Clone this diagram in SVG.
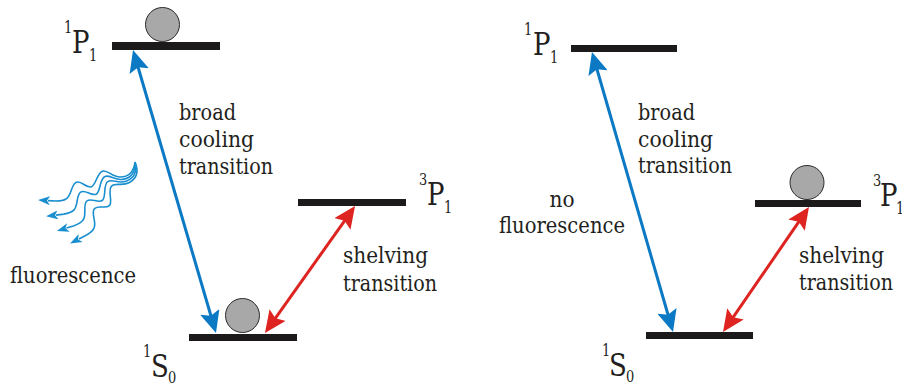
<svg xmlns="http://www.w3.org/2000/svg" xmlns:xlink="http://www.w3.org/1999/xlink" width="902" height="387" viewBox="0 0 902 387">
<style>
  .bar { fill: #1c1a1a; }
  .atom { fill: #a8a8a8; stroke: #2a2a2a; stroke-width: 1; }
  text { font-family: "DejaVu Serif", serif; fill: #231f20; }
  .t { font-size: 22px; }
  .lab { font-size: 26px; }
  .idx { font-size: 13px; }
  .blue { stroke: #0b79c4; stroke-width: 3; fill: none; }
  .red { stroke: #dd2420; stroke-width: 3; fill: none; }
  .wave { stroke: #1a8fd0; stroke-width: 1.6; fill: none; }
</style>
<defs>
  <marker id="hb" markerUnits="userSpaceOnUse" viewBox="0 0 22 20" markerWidth="22" markerHeight="20" refX="10" refY="10" orient="auto-start-reverse">
    <path d="M0,0 L22,10 L0,20 L4,10 Z" fill="#0b79c4"/>
  </marker>
  <marker id="hr" markerUnits="userSpaceOnUse" viewBox="0 0 22 20" markerWidth="22" markerHeight="20" refX="10" refY="10" orient="auto-start-reverse">
    <path d="M0,0 L22,10 L0,20 L4,10 Z" fill="#dd2420"/>
  </marker>
  <marker id="hw" markerUnits="userSpaceOnUse" viewBox="0 0 12 9" markerWidth="12" markerHeight="9" refX="2" refY="4.5" orient="auto">
    <path d="M0,0 L12,4.5 L0,9 L3,4.5 Z" fill="#1a8fd0"/>
  </marker>
  <path id="wave" class="wave" marker-end="url(#hw)" d="M135,162 C134,170 130,177 120,177 C112,177 108,170 103,171 C97,172 96,186 91,187 C86,188 82,181 77,182 C71,183 72,196 66,199 C63,201 60,201 56,201 L48,200.6"/>
</defs>

<!-- Left panel -->
<g id="L_1P1">
  <rect class="bar" x="112" y="42" width="108" height="8"/>
  <circle class="atom" cx="162.5" cy="24.5" r="17"/>
  <g transform="translate(72,53) scale(1,1.25)">
    <text class="idx" x="-8" y="-16">1</text>
    <text class="lab" x="0" y="0">P</text>
    <text class="idx" x="17" y="6">1</text>
  </g>
</g>
<g id="L_3P1">
  <rect class="bar" x="298" y="199" width="108" height="7"/>
  <g transform="translate(427,205) scale(1,1.25)">
    <text class="idx" x="-8" y="-16">3</text>
    <text class="lab" x="0" y="0">P</text>
    <text class="idx" x="17" y="6">1</text>
  </g>
</g>
<g id="L_1S0">
  <rect class="bar" x="189" y="334" width="108" height="7"/>
  <circle class="atom" cx="242.5" cy="315.5" r="17"/>
  <g transform="translate(151,377) scale(1,1.25)">
    <text class="idx" x="-8" y="-16">1</text>
    <text class="lab" x="0" y="0">S</text>
    <text class="idx" x="17" y="5">0</text>
  </g>
</g>
<g id="L_cool_label">
  <text class="t" x="179" y="120" textLength="57" lengthAdjust="spacingAndGlyphs">broad</text>
  <text class="t" x="179" y="147" textLength="75" lengthAdjust="spacingAndGlyphs">cooling</text>
  <text class="t" x="179" y="174" textLength="94" lengthAdjust="spacingAndGlyphs">transition</text>
</g>
<g id="L_shelv_label">
  <text class="t" x="343" y="263" textLength="85" lengthAdjust="spacingAndGlyphs">shelving</text>
  <text class="t" x="343" y="291" textLength="94" lengthAdjust="spacingAndGlyphs">transition</text>
</g>
<g id="L_fluor">
  <use xlink:href="#wave"/>
  <use xlink:href="#wave" transform="rotate(-10 135 162)"/>
  <use xlink:href="#wave" transform="rotate(-20 135 162)"/>
  <use xlink:href="#wave" transform="rotate(-30 135 162)"/>
  <text class="t" x="10" y="283" textLength="126" lengthAdjust="spacingAndGlyphs">fluorescence</text>
</g>

<!-- Right panel -->
<g id="R_1P1">
  <rect class="bar" x="571" y="45" width="106" height="7"/>
  <g transform="translate(533,55) scale(1,1.25)">
    <text class="idx" x="-9" y="-16">1</text>
    <text class="lab" x="0" y="0">P</text>
    <text class="idx" x="17" y="6">1</text>
  </g>
</g>
<g id="R_3P1">
  <rect class="bar" x="755" y="200" width="106" height="7"/>
  <circle class="atom" cx="807" cy="182.5" r="17"/>
  <g transform="translate(880,206) scale(1,1.25)">
    <text class="idx" x="-7" y="-16">3</text>
    <text class="lab" x="0" y="0">P</text>
    <text class="idx" x="16" y="6">1</text>
  </g>
</g>
<g id="R_1S0">
  <rect class="bar" x="646" y="332" width="107" height="7"/>
  <g transform="translate(609,376) scale(1,1.25)">
    <text class="idx" x="-7" y="-16">1</text>
    <text class="lab" x="0" y="0">S</text>
    <text class="idx" x="17" y="5">0</text>
  </g>
</g>
<g id="R_cool_label">
  <text class="t" x="638" y="120" textLength="57" lengthAdjust="spacingAndGlyphs">broad</text>
  <text class="t" x="638" y="147" textLength="75" lengthAdjust="spacingAndGlyphs">cooling</text>
  <text class="t" x="638" y="173" textLength="94" lengthAdjust="spacingAndGlyphs">transition</text>
</g>
<g id="R_nofluor_label">
  <text class="t" x="562" y="207" text-anchor="middle" textLength="25" lengthAdjust="spacingAndGlyphs">no</text>
  <text class="t" x="562" y="233" text-anchor="middle" textLength="126" lengthAdjust="spacingAndGlyphs">fluorescence</text>
</g>
<g id="R_shelv_label">
  <text class="t" x="799" y="263" textLength="85" lengthAdjust="spacingAndGlyphs">shelving</text>
  <text class="t" x="799" y="290" textLength="94" lengthAdjust="spacingAndGlyphs">transition</text>
</g>

<!-- Connectors -->
<g id="connectors">
  <line class="blue" x1="136.4" y1="61.5" x2="212.6" y2="321.5" marker-start="url(#hb)" marker-end="url(#hb)"/>
  <line class="red" x1="348.1" y1="215.8" x2="271.9" y2="323.2" marker-start="url(#hr)" marker-end="url(#hr)"/>
  <line class="blue" x1="595.3" y1="63.5" x2="669.7" y2="320.5" marker-start="url(#hb)" marker-end="url(#hb)"/>
  <line class="red" x1="802.2" y1="216.9" x2="729.8" y2="322.1" marker-start="url(#hr)" marker-end="url(#hr)"/>
</g>
</svg>
